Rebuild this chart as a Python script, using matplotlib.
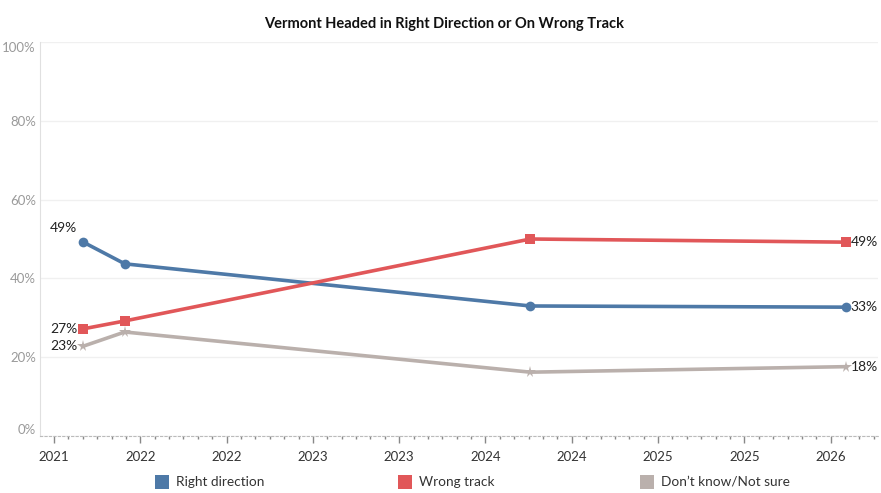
import matplotlib
matplotlib.use("Agg")
import matplotlib.pyplot as plt
from matplotlib.ticker import MultipleLocator, FixedLocator
from matplotlib.patches import Rectangle

plt.rcParams['font.family'] = ['Lato', 'DejaVu Sans']

# Data (x in fractional years)
dates = [2021.17, 2021.41, 2023.76, 2025.59]
right_direction = [49.2, 43.7, 33.0, 32.7]
wrong_track = [27.2, 29.2, 50.0, 49.2]
dont_know = [22.8, 26.4, 16.2, 17.6]
series_names = ["Right direction", "Wrong track", "Don\u2019t know/Not sure"]
colors = ["#4e79a7", "#e15759", "#bab0ac"]
markers = ["o", "s", "*"]
tick_positions = [2021.0, 2021.5, 2022.0, 2022.5, 2023.0, 2023.5, 2024.0, 2024.5, 2025.0, 2025.5]
tick_labels = ["2021", "2022", "2022", "2023", "2023", "2024", "2024", "2025", "2025", "2026"]
y_ticks = [0, 20, 40, 60, 80, 100]

W, H = 881, 493
fig = plt.figure(figsize=(W / 100, H / 100), dpi=100)
ax = fig.add_axes([40 / W, 1 - 436 / H, (878 - 40) / W, (436 - 42) / H])

ax.set_xlim(2020.919, 2025.774)
ax.set_ylim(0, 100)

series = [right_direction, wrong_track, dont_know]
for vals, c, m in zip(series, colors, markers):
    ax.plot(dates, vals, color=c, lw=2.6, marker=m,
            markersize=8.5 if m == "*" else 7, markeredgewidth=0, zorder=3,
            solid_joinstyle="round")

# Labels
fs = 10
ax.annotate(f"{right_direction[0]:.0f}%", (dates[0], right_direction[0]), xytext=(-14, 6),
            textcoords="offset points", ha="center", va="bottom", fontsize=fs, color="#222222")
ax.annotate(f"{wrong_track[0]:.0f}%", (dates[0], wrong_track[0]), xytext=(-4, 0),
            textcoords="offset points", ha="right", va="center", fontsize=fs, color="#222222")
ax.annotate(f"{dont_know[0]:.0f}%", (dates[0], dont_know[0]), xytext=(-4, 0),
            textcoords="offset points", ha="right", va="center", fontsize=fs, color="#222222")
for vals in series:
    ax.annotate(f"{vals[-1]:.0f}%", (dates[-1], vals[-1]), xytext=(3, 0),
                textcoords="offset points", ha="left", va="center", fontsize=fs, color="#222222")

# Axes styling
for s in ["top", "right"]:
    ax.spines[s].set_visible(False)
ax.spines["left"].set_color("#e0e0e0")
ax.spines["bottom"].set_color("#bbbbbb")
ax.spines["bottom"].set_linestyle((0, (2, 2)))
ax.spines["bottom"].set_linewidth(0.8)

ax.set_yticks(y_ticks)
ax.set_yticklabels([f"{v}%" for v in y_ticks], color="#9a9a9a", fontsize=9.5)
ax.tick_params(axis="y", length=0, pad=3)
ylabels = ax.get_yticklabels()
ylabels[0].set_va("bottom")
ylabels[-1].set_va("top")
ax.grid(axis="y", color="#f0f0f0", lw=1)
ax.set_axisbelow(True)

ax.xaxis.set_major_locator(FixedLocator(tick_positions))
ax.set_xticklabels(tick_labels, color="#333333", fontsize=9.5)
ax.xaxis.set_minor_locator(MultipleLocator(1 / 12))
ax.tick_params(axis="x", which="major", length=5, color="#888888", width=1, pad=6)
ax.tick_params(axis="x", which="minor", length=2.5, color="#888888", width=1)

fig.text(444 / W, 1 - 24 / H, "Vermont Headed in Right Direction or On Wrong Track",
         ha="center", va="center", fontsize=10.5, fontweight="bold", color="#111111")

# Legend
leg_x = [155, 398, 640]
for x0, name, c in zip(leg_x, series_names, colors):
    fig.patches.append(Rectangle((x0 / W, 1 - 489 / H), 14 / W, 14 / H,
                                 transform=fig.transFigure, facecolor=c, edgecolor="none"))
    fig.text((x0 + 21) / W, 1 - 482 / H, name, ha="left", va="center",
             fontsize=9.8, color="#333333")

fig.savefig("out.png", dpi=100)
